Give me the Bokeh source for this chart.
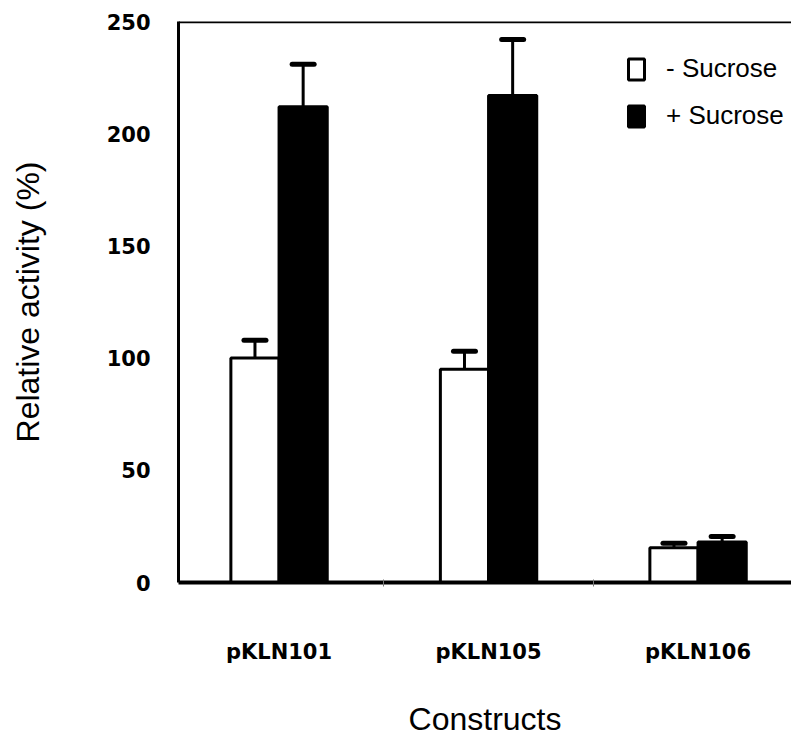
from bokeh.plotting import figure
from bokeh.models import (Range1d, FixedTicker, Span, Whisker, TeeHead,
                          ColumnDataSource, Legend, LegendItem)
from bokeh.embed import file_html
from bokeh.resources import INLINE

# Relative reporter activity of each construct, with and without sucrose
constructs = ["pKLN101", "pKLN105", "pKLN106"]
minus_sucrose = [100, 95, 15.5]
minus_sucrose_err = [8, 8, 2]
plus_sucrose = [212, 217, 18]
plus_sucrose_err = [19, 25, 2.5]
y_ticks = [0, 50, 100, 150, 200, 250]

centers = [i + 0.5 for i in range(len(constructs))]
bar_w = 0.23
half = bar_w / 2

src_minus = ColumnDataSource(dict(
    x=[c - half for c in centers],
    top=minus_sucrose,
    upper=[v + e for v, e in zip(minus_sucrose, minus_sucrose_err)],
))
src_plus = ColumnDataSource(dict(
    x=[c + half for c in centers],
    top=plus_sucrose,
    upper=[v + e for v, e in zip(plus_sucrose, plus_sucrose_err)],
))

p = figure(width=791, height=742, output_backend="svg", toolbar_location=None,
           x_range=Range1d(0.02, 2.946), y_range=Range1d(0, 250),
           min_border_left=178, min_border_right=0, min_border_top=21,
           min_border_bottom=160)
p.outline_line_color = None
p.grid.grid_line_color = None
p.background_fill_color = "white"
p.border_fill_color = "white"

white_bars = p.vbar(x="x", top="top", width=bar_w, bottom=0, source=src_minus,
                    fill_color="white", line_color="black", line_width=3)
black_bars = p.vbar(x="x", top="top", width=bar_w, bottom=0, source=src_plus,
                    fill_color="black", line_color="black", line_width=3)

for src in (src_minus, src_plus):
    w = Whisker(base="x", lower="top", upper="upper", source=src,
                line_color="black", line_width=3,
                upper_head=TeeHead(size=22, line_width=5, line_color="black",
                                   line_cap="round"),
                lower_head=None)
    p.add_layout(w)

# top border of the frame
p.add_layout(Span(location=250, dimension="width", line_color="black",
                  line_width=3.5))

# y axis
p.yaxis.ticker = FixedTicker(ticks=y_ticks)
p.yaxis.axis_line_width = 3
p.yaxis.axis_line_color = "black"
p.yaxis.major_tick_line_color = None
p.yaxis.minor_tick_line_color = None
p.yaxis.major_label_standoff = 22
p.yaxis.major_label_text_font = "DejaVu Sans"
p.yaxis.major_label_text_font_style = "bold"
p.yaxis.major_label_text_font_size = "21px"
p.yaxis.major_label_text_color = "black"
p.yaxis.axis_label = "Relative activity (%)"
p.yaxis.axis_label_text_font = "Liberation Sans"
p.yaxis.axis_label_text_font_style = "normal"
p.yaxis.axis_label_text_font_size = "32px"
p.yaxis.axis_label_text_color = "black"
p.yaxis.axis_label_standoff = 58

# x axis: labels at group centres, small ticks between groups
p.xaxis.ticker = FixedTicker(ticks=centers, minor_ticks=[1, 2])
p.xaxis.major_label_overrides = {c: name for c, name in zip(centers, constructs)}
p.xaxis.axis_line_width = 4
p.xaxis.axis_line_color = "black"
p.xaxis.major_tick_line_color = None
p.xaxis.minor_tick_line_color = "#777777"
p.xaxis.minor_tick_line_width = 1
p.xaxis.minor_tick_in = 3
p.xaxis.minor_tick_out = 4
p.xaxis.major_label_standoff = 51
p.xaxis.major_label_text_font = "DejaVu Sans"
p.xaxis.major_label_text_font_style = "bold"
p.xaxis.major_label_text_font_size = "21px"
p.xaxis.major_label_text_color = "black"
p.xaxis.axis_label = "Constructs"
p.xaxis.axis_label_text_font = "Liberation Sans"
p.xaxis.axis_label_text_font_style = "normal"
p.xaxis.axis_label_text_font_size = "32px"
p.xaxis.axis_label_text_color = "black"
p.xaxis.axis_label_standoff = 34

legend = Legend(items=[LegendItem(label="- Sucrose", renderers=[white_bars]),
                       LegendItem(label="+ Sucrose", renderers=[black_bars])],
                location=(448, 451), glyph_width=20, glyph_height=26,
                label_text_font="Liberation Sans", label_text_font_size="26px",
                label_text_color="black",
                label_standoff=20, spacing=16, padding=0, margin=0,
                border_line_color=None, background_fill_alpha=0)
p.add_layout(legend)

open("out.html", "w").write(file_html(p, INLINE))
